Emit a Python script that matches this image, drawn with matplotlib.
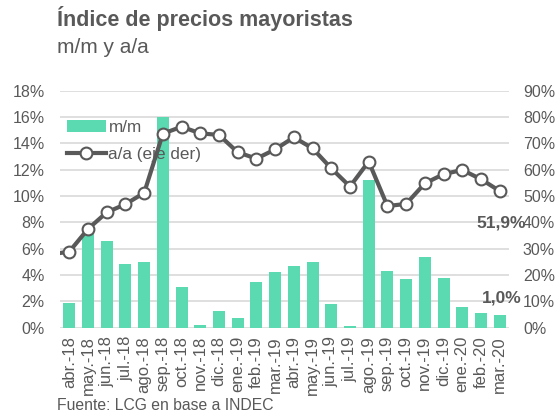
import numpy as np
import matplotlib.pyplot as plt

plt.rcParams['font.family'] = ['Liberation Sans', 'DejaVu Sans']

meses = ['abr.-18', 'may.-18', 'jun.-18', 'jul.-18', 'ago.-18', 'sep.-18',
         'oct.-18', 'nov.-18', 'dic.-18', 'ene.-19', 'feb.-19', 'mar.-19',
         'abr.-19', 'may.-19', 'jun.-19', 'jul.-19', 'ago.-19', 'sep.-19',
         'oct.-19', 'nov.-19', 'dic.-19', 'ene.-20', 'feb.-20', 'mar.-20']

# variacion mensual (%)
mm = [1.9, 7.1, 6.6, 4.8, 5.0, 16.0, 3.1, 0.2, 1.3, 0.7, 3.5, 4.2,
      4.7, 5.0, 1.8, 0.1, 11.2, 4.3, 3.7, 5.4, 3.8, 1.6, 1.1, 1.0]

# variacion anual (%), eje derecho
aa = [28.9, 37.5, 43.8, 46.9, 51.2, 73.7, 76.3, 73.8, 73.2, 66.6, 64.2, 67.7,
      72.3, 68.1, 60.5, 53.6, 63.1, 46.2, 47.0, 54.8, 58.3, 59.9, 56.4, 51.9]
aa_mar18 = 27.8  # mes previo, queda fuera del eje

verde = '#5BD9B1'
gris = '#595959'
texto = '#595959'

fig = plt.figure(figsize=(5.59, 4.17), dpi=100)
ax = fig.add_axes([0.1073, 0.2142, 0.8033, 0.5683])
ax2 = ax.twinx()

x = np.arange(len(meses))
ax.bar(x, mm, width=0.64, color=verde, label='m/m', zorder=2)

ax2.plot(np.concatenate([[-1], x]), [aa_mar18] + aa, color=gris, lw=3,
         marker='o', ms=8.5, mfc='white', mec=gris, mew=1.5,
         label='a/a (eje der)', zorder=3)

ax.set_xlim(-0.5, len(meses) - 0.5)
ax.set_ylim(0, 18)
ax2.set_ylim(0, 90)
ax.set_yticks(np.arange(0, 19, 2))
ax.set_yticklabels([f'{v}%' for v in range(0, 19, 2)])
ax2.set_yticks(np.arange(0, 91, 10))
ax2.set_yticklabels([f'{v}%' for v in range(0, 91, 10)])
ax.set_xticks(x)
ax.set_xticklabels(meses, rotation=90)

ax.grid(axis='y', color='#D9D9D9', lw=1.2, zorder=0)
ax.set_axisbelow(True)
for a in (ax, ax2):
    for s in a.spines.values():
        s.set_visible(False)
ax.tick_params(axis='y', length=0, pad=11, labelsize=11.5, labelcolor=texto)
ax2.tick_params(axis='y', length=0, pad=10, labelsize=11.5, labelcolor=texto)
ax.tick_params(axis='x', length=0, pad=6, labelsize=12, labelcolor=texto)

ax2.text(21.75, 39.7, '51,9%', ha='left', va='center',
         fontsize=12.5, fontweight='bold', color=texto)
ax.text(22.05, 2.26, '1,0%', ha='left', va='center',
        fontsize=12.5, fontweight='bold', color=texto)

h1, l1 = ax.get_legend_handles_labels()
h2, l2 = ax2.get_legend_handles_labels()
leg = ax2.legend(h1 + h2, l1 + l2, loc='upper left',
                 bbox_to_anchor=(0.0156, 0.875), frameon=False, fontsize=12.3,
                 handlelength=2.28, handletextpad=0.15, labelspacing=0.7,
                 borderaxespad=0, borderpad=0)
for t in leg.get_texts():
    t.set_color(texto)

fig.text(0.102, 0.955, 'Índice de precios mayoristas', fontsize=15.5,
         fontweight='bold', color=texto, va='center')
fig.text(0.102, 0.885, 'm/m y a/a', fontsize=15, color=texto, va='center')
fig.text(0.102, 0.028, 'Fuente: LCG en base a INDEC', fontsize=11.3,
         color=texto, va='center')

fig.savefig('out.png', dpi=100)
